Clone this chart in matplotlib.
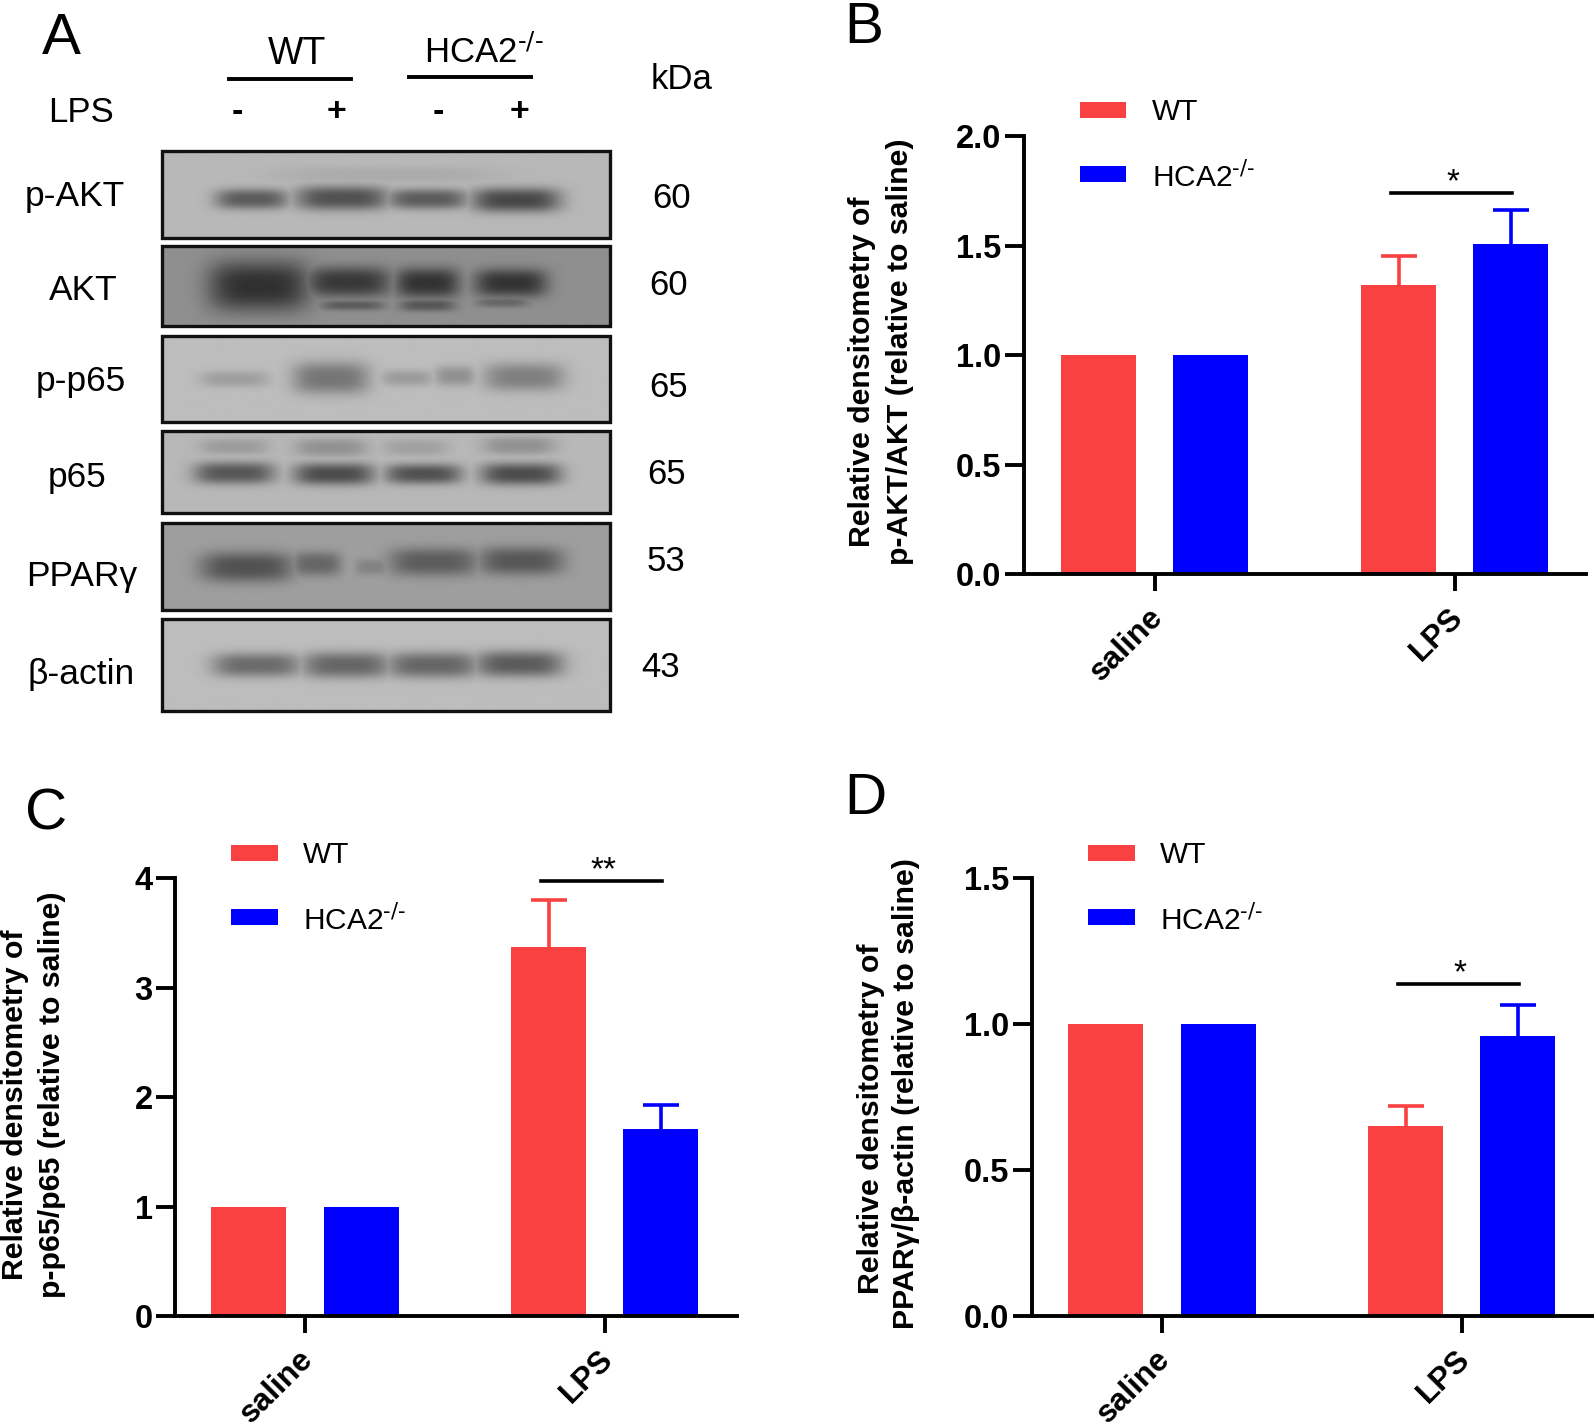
#western blot panel plus three densitometry bar charts
import matplotlib
matplotlib.use("Agg")
import matplotlib.pyplot as plt
from matplotlib.patches import Rectangle
from matplotlib.transforms import ScaledTranslation
import numpy as np

plt.rcParams["font.family"] = ["Liberation Sans", "DejaVu Sans"]
plt.rcParams["mathtext.default"] = "regular"

#bar data
groups = ["saline", "LPS"]
genotypes = ["WT", "HCA2$^{\\text{-/-}}$"]
colors = ["#FA4141", "#0000FF"]

b_wt = [1.0, 1.32]
b_ko = [1.0, 1.51]
b_wt_err = 0.135
b_ko_err = 0.155

c_wt = [1.0, 3.37]
c_ko = [1.0, 1.71]
c_wt_err = 0.43
c_ko_err = 0.22

d_wt = [1.0, 0.65]
d_ko = [1.0, 0.96]
d_wt_err = 0.07
d_ko_err = 0.105

#blot labels
blot_names = ["p-AKT", "AKT", "p-p65", "p65", "PPARγ", "β-actin"]
blot_kda = ["60", "60", "65", "65", "53", "43"]

#blot rows: top, bottom, background grey
blot_boxes = [(149, 234, 0.72), (242, 321, 0.56), (331, 415, 0.74),
              (424, 505, 0.72), (515, 600, 0.62), (609, 700, 0.74)]
#bands: x centre, half width, y centre, half height, darkness
blot_bands = [
    [(247, 36, 196, 10, 0.36), (336, 46, 195, 12, 0.40), (420, 40, 196, 10, 0.36), (507, 44, 197, 12, 0.44),
     (380, 110, 172, 8, 0.05)],
    [(254, 50, 282, 25, 0.37), (342, 42, 278, 15, 0.34), (420, 32, 279, 15, 0.36), (502, 36, 279, 14, 0.36),
     (346, 32, 301, 5, 0.20), (420, 28, 301, 6, 0.22), (494, 26, 298, 5, 0.16)],
    [(230, 34, 373, 8, 0.12), (325, 38, 372, 16, 0.28), (400, 26, 372, 8, 0.13), (447, 20, 370, 10, 0.17),
     (515, 40, 371, 14, 0.24)],
    [(230, 34, 440, 8, 0.11), (325, 36, 441, 9, 0.15), (408, 32, 441, 8, 0.09), (510, 36, 439, 9, 0.15),
     (230, 40, 466, 11, 0.38), (328, 40, 467, 11, 0.42), (416, 38, 467, 10, 0.40), (512, 40, 467, 11, 0.42)],
    [(242, 46, 558, 15, 0.30), (311, 24, 555, 12, 0.22), (365, 16, 558, 8, 0.11), (426, 44, 553, 14, 0.26),
     (512, 42, 552, 14, 0.28)],
    [(252, 44, 655, 12, 0.32), (340, 44, 655, 13, 0.34), (425, 46, 655, 13, 0.34), (510, 44, 654, 13, 0.38)],
]

fig = plt.figure(figsize=(15.94, 14.28), dpi=100)
W, H = 1568.0, 1405.0

#overlay axes in picture coordinates for the blot and all loose text
ov = fig.add_axes([0, 0, 1, 1])
ov.axis("off")

for (top, bottom, bg), bands in zip(blot_boxes, blot_bands):
    xx, yy = np.meshgrid(np.arange(159, 601), np.arange(top, bottom + 1))
    shade = np.zeros(xx.shape)
    for xc, hw, yc, hh, dark in bands:
        band = dark * np.exp(-np.abs((xx - xc) / hw) ** 4) * np.exp(-np.abs((yy - yc) / hh) ** 2.6)
        shade = np.maximum(shade, band)
    ov.imshow(bg - shade, cmap="gray", vmin=0, vmax=1, extent=(159, 600, bottom, top),
              aspect="auto", interpolation="bilinear")
    ov.add_patch(Rectangle((159, top), 441, bottom - top, fill=False, ec="#111111", lw=2.4))
ov.set_xlim(0, W)
ov.set_ylim(H, 0)

#blot labels
name_pos = [(74, 193), (82, 286), (80, 375), (76, 470), (80, 567), (80, 664)]
kda_pos = [(661, 195), (658, 281), (658, 381), (656, 467), (655, 552), (650, 657)]
for name, (x, y) in zip(blot_names, name_pos):
    ov.text(x, y, name, fontsize=25.5, ha="center", va="center")
for kda, (x, y) in zip(blot_kda, kda_pos):
    ov.text(x, y, kda, fontsize=25, ha="center", va="center")

ov.text(670, 78, "kDa", fontsize=25, ha="center", va="center")
ov.text(80, 111, "LPS", fontsize=25, ha="center", va="center")
ov.text(292, 53, "WT", fontsize=27, ha="center", va="center")
ov.text(476, 51, genotypes[1], fontsize=25, ha="center", va="center")
ov.plot([225, 345], [78, 78], color="black", lw=2.8)
ov.plot([402, 522], [76, 76], color="black", lw=2.8)
for x, sign in zip([233, 331, 431, 511], ["-", "+", "-", "+"]):
    ov.text(x, 111, sign, fontsize=24.5, ha="center", va="center", fontweight="bold")

#panel letters
for letter, x, y in [("A", 60, 38), ("B", 850, 28), ("C", 45, 801), ("D", 851, 786)]:
    ov.text(x, y, letter, fontsize=42, ha="center", va="center")


def bar_panel(axis_x, right, y_top, y_bottom, tick0, wt, ko, wt_err, ko_err, ymax, yticks, yfmt,
              line1, line1_pos, line2, line2_pos, sig_y, stars, legend_x, legend_y):
    ax = fig.add_axes([axis_x / W, 1 - y_bottom / H, (right - axis_x) / W, (y_bottom - y_top) / H])
    ax.patch.set_alpha(0)
    spacing = 295.0
    ax.set_xlim((axis_x - tick0) / spacing, (right - tick0) / spacing)
    ax.set_ylim(0, ymax)
    x = np.arange(len(groups))
    ax.bar(x - 0.187, wt, width=0.25, color=colors[0])
    ax.bar(x + 0.187, ko, width=0.25, color=colors[1])
    #only the upper whisker shows, so hide the lower cap
    for xpos, val, err, col in [(x[1] - 0.187, wt[1], wt_err, colors[0]), (x[1] + 0.187, ko[1], ko_err, colors[1])]:
        _, caps, _ = ax.errorbar(xpos, val, yerr=[[0], [err]], color=col, elinewidth=2.6,
                                 capsize=13, capthick=2.6, clip_on=False)
        caps[0].set_visible(False)
    #significance line and stars
    ax.plot([0.786, 1.19], [sig_y, sig_y], color="black", lw=2.6, clip_on=False)
    ax.text(0.995, sig_y + ymax * 0.024, stars, fontsize=24, ha="center", va="center", clip_on=False)

    for side in ["top", "right"]:
        ax.spines[side].set_visible(False)
    for side in ["left", "bottom"]:
        ax.spines[side].set_linewidth(2.8)
    ax.set_yticks(yticks)
    ax.set_yticklabels([yfmt % t for t in yticks], fontsize=23.5, fontweight="bold")
    ax.set_xticks(x)
    ax.set_xticklabels(groups, fontsize=22.8, fontweight="bold", rotation=45, ha="right",
                       rotation_mode="anchor")
    ax.tick_params(axis="y", length=14, width=2.8, pad=2)
    ax.tick_params(axis="x", length=12, width=2.8, pad=8)
    #labels sit a little left of the tick, has to come after tick_params
    nudge = ScaledTranslation(-5 / 72, 0, fig.dpi_scale_trans)
    for lab in ax.get_xticklabels():
        lab.set_transform(lab.get_transform() + nudge)

    #two line y title, the lines are not centred on each other in the figure
    ov.text(line1_pos[0], line1_pos[1], line1, fontsize=21.8, fontweight="bold", rotation=90,
            ha="center", va="center")
    ov.text(line2_pos[0], line2_pos[1], line2, fontsize=21.8, fontweight="bold", rotation=90,
            ha="center", va="center")

    #legend drawn by hand so the spacing follows the figure
    for i, name in enumerate(genotypes):
        y = legend_y + 63 * i
        ov.add_patch(Rectangle((legend_x, y - 8), 46, 16.5, color=colors[i], lw=0))
        ov.text(legend_x + 71, y + (3 if i else 2), name, fontsize=21.5, ha="left", va="center")
    return ax


title1 = "Relative densitometry of"
bar_panel(1007, 1560, 134, 565, 1136, b_wt, b_ko, b_wt_err, b_ko_err, 2.0, [0, 0.5, 1.0, 1.5, 2.0], "%.1f",
          title1, (848, 366), "p-AKT/AKT (relative to saline)", (885, 346), 1.74, "*", 1062, 108)
bar_panel(172, 725, 864, 1295, 300, c_wt, c_ko, c_wt_err, c_ko_err, 4, [0, 1, 2, 3, 4], "%d",
          title1, (15, 1087), "p-p65/p65 (relative to saline)", (51, 1077), 3.97, "**", 227, 839)
bar_panel(1015, 1568, 864, 1295, 1143, d_wt, d_ko, d_wt_err, d_ko_err, 1.5, [0, 0.5, 1.0, 1.5], "%.1f",
          title1, (857, 1101), "PPARγ/β-actin (relative to saline)", (891, 1076), 1.138, "*", 1070, 839)

plt.savefig("out.png", dpi=100)
plt.close()
